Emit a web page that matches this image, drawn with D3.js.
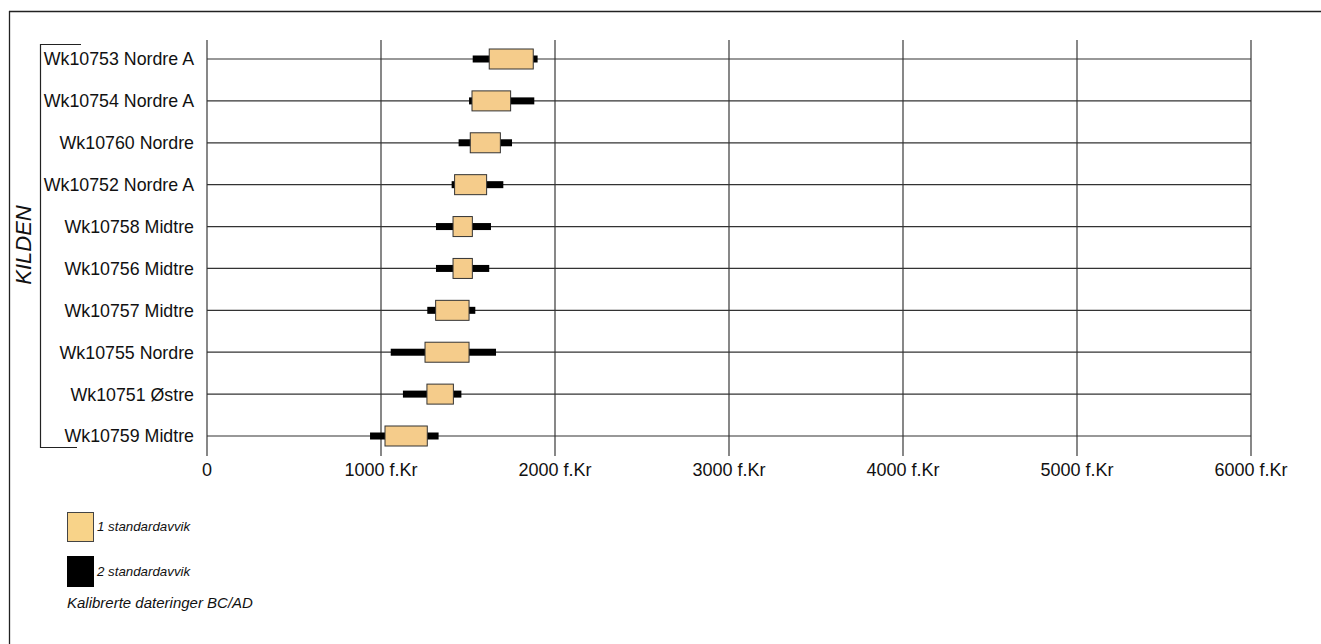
<!DOCTYPE html>
<html>
<head>
<meta charset="utf-8">
<script src="https://cdn.jsdelivr.net/npm/d3@7"></script>
<style>
  html, body { margin: 0; padding: 0; background: #fff; }
  svg { display: block; font-family: "Liberation Sans", Arial, sans-serif; }
</style>
</head>
<body>
<svg id="chart" width="1321" height="644"></svg>
<script>
// Radiocarbon samples, top to bottom
const samples = [
  "Wk10753 Nordre A", "Wk10754 Nordre A", "Wk10760 Nordre", "Wk10752 Nordre A",
  "Wk10758 Midtre", "Wk10756 Midtre", "Wk10757 Midtre", "Wk10755 Nordre",
  "Wk10751 Østre", "Wk10759 Midtre"
];
// 2 sigma ranges (years BC)
const sd2Start = [1527, 1506, 1446, 1406, 1316, 1316, 1266, 1056, 1126, 937];
const sd2End   = [1900, 1881, 1753, 1703, 1632, 1622, 1542, 1661, 1462, 1331];
// 1 sigma ranges (years BC)
const sd1Start = [1622, 1523, 1513, 1423, 1414, 1414, 1314, 1253, 1264, 1023];
const sd1End   = [1875, 1745, 1686, 1607, 1525, 1525, 1506, 1506, 1416, 1266];

const tickValues = [0, 1000, 2000, 3000, 4000, 5000, 6000];
const tickLabels = ["0", "1000 f.Kr", "2000 f.Kr", "3000 f.Kr", "4000 f.Kr", "5000 f.Kr", "6000 f.Kr"];

const groupLabel = "KILDEN";
const legendItems = ["1 standardavvik", "2 standardavvik"];
const legendNote = "Kalibrerte dateringer BC/AD";

const fill1 = "#F5CC8B";
const svg = d3.select("#chart");

// outer frame (left and top edges)
svg.append("line").attr("x1", 9.5).attr("x2", 9.5).attr("y1", 11).attr("y2", 644)
  .attr("stroke", "#222").attr("stroke-width", 1.3);
svg.append("line").attr("x1", 9).attr("x2", 1321).attr("y1", 11.5).attr("y2", 11.5)
  .attr("stroke", "#222").attr("stroke-width", 1.5);

const x = d3.scaleLinear().domain([0, 6000]).range([207, 1251]);
const y = d3.scalePoint().domain(samples).range([59, 436]);

const gridTop = 40, gridBottom = 456;

// vertical grid lines / ticks
svg.append("g").selectAll("line").data(tickValues).join("line")
  .attr("x1", d => x(d)).attr("x2", d => x(d))
  .attr("y1", gridTop).attr("y2", gridBottom)
  .attr("stroke", "#555").attr("stroke-width", 1.4);

// x axis labels
svg.append("g").selectAll("text").data(tickValues).join("text")
  .attr("x", d => x(d)).attr("y", 476)
  .attr("text-anchor", "middle")
  .attr("font-size", 18).attr("fill", "#111")
  .text((d, i) => tickLabels[i]);

// horizontal row lines
svg.append("g").selectAll("line").data(samples).join("line")
  .attr("x1", x(0)).attr("x2", x(6000))
  .attr("y1", d => y(d)).attr("y2", d => y(d))
  .attr("stroke", "#333").attr("stroke-width", 1.2);

// row labels
svg.append("g").selectAll("text").data(samples).join("text")
  .attr("x", 194).attr("y", d => y(d)).attr("dy", "0.36em")
  .attr("text-anchor", "end")
  .attr("font-size", 17.8).attr("fill", "#111")
  .text(d => d);

// bracket around the group
svg.append("path")
  .attr("d", `M81,44.5H40.5V447.5H77`)
  .attr("fill", "none").attr("stroke", "#222").attr("stroke-width", 1.2);

svg.append("text")
  .attr("transform", "translate(31,245) rotate(-90)")
  .attr("text-anchor", "middle")
  .attr("font-size", 22).attr("font-style", "italic").attr("fill", "#111")
  .text(groupLabel);

// 2 sigma bars
svg.append("g").selectAll("rect").data(samples).join("rect")
  .attr("x", (d, i) => x(sd2Start[i]))
  .attr("width", (d, i) => x(sd2End[i]) - x(sd2Start[i]))
  .attr("y", d => y(d) - 3.5).attr("height", 7)
  .attr("fill", "#000");

// 1 sigma boxes
svg.append("g").selectAll("rect").data(samples).join("rect")
  .attr("x", (d, i) => x(sd1Start[i]))
  .attr("width", (d, i) => x(sd1End[i]) - x(sd1Start[i]))
  .attr("y", d => y(d) - 10).attr("height", 20)
  .attr("fill", fill1).attr("stroke", "#333").attr("stroke-width", 1);

// legend
const legend = svg.append("g");
legend.append("rect").attr("x", 67.5).attr("y", 512.5).attr("width", 26).attr("height", 29)
  .attr("fill", "#F8D389").attr("stroke", "#444").attr("stroke-width", 1);
legend.append("rect").attr("x", 67).attr("y", 556).attr("width", 27).attr("height", 31)
  .attr("fill", "#000");
legend.selectAll("text.item").data(legendItems).join("text")
  .attr("class", "item")
  .attr("x", 97).attr("y", (d, i) => 531 + i * 44.5)
  .attr("font-size", 13.3).attr("font-style", "italic").attr("fill", "#111")
  .text(d => d);
legend.append("text")
  .attr("x", 67).attr("y", 608)
  .attr("font-size", 15).attr("font-style", "italic").attr("fill", "#111")
  .text(legendNote);
</script>
</body>
</html>
